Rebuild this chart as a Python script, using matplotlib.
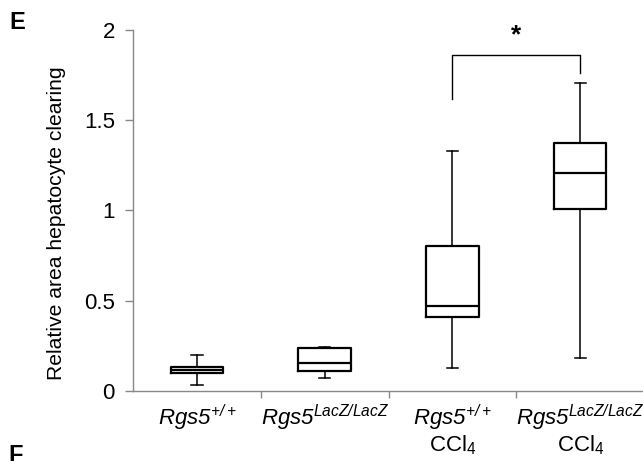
#!/usr/bin/env python3
"""
Box plot: relative area of hepatocyte clearing per genotype / treatment
"""
import matplotlib
matplotlib.use("Agg")
import matplotlib.pyplot as plt

plt.rcParams['font.family'] = ['Liberation Sans', 'DejaVu Sans']
# math "rm" is italic here so digits and +/+ come out slanted; sf stays upright
plt.rcParams['mathtext.fontset'] = 'custom'
plt.rcParams['mathtext.rm'] = 'Liberation Sans:italic'
plt.rcParams['mathtext.it'] = 'Liberation Sans:italic'
plt.rcParams['mathtext.sf'] = 'Liberation Sans'

# Data (box statistics)
labels = [r'$Rgs5^{+/+}$',
          r'$Rgs5^{LacZ/LacZ}$',
          r'$Rgs5^{+/+}$' + '\n' + r'CCl$_\mathsf{4}$',
          r'$Rgs5^{LacZ/LacZ}$' + '\n' + r'CCl$_\mathsf{4}$']
whis_low = [0.035, 0.073, 0.13, 0.186]
q1 = [0.103, 0.11, 0.409, 1.007]
median = [0.12, 0.155, 0.471, 1.206]
q3 = [0.134, 0.24, 0.803, 1.37]
whis_high = [0.202, 0.245, 1.328, 1.707]

# significance bracket between group 3 and 4
bracket_pair = (3, 4)
bracket_y = 1.86
bracket_left_bottom = 1.615
bracket_right_bottom = 1.76
star_y = 1.97

fig = plt.figure(figsize=(6.43, 4.61), dpi=100)
ax = fig.add_axes([0.2068, 0.151, 0.795, 0.785])

stats = []
for i in range(len(labels)):
    stats.append({
        "whislo": whis_low[i], "q1": q1[i], "med": median[i],
        "q3": q3[i], "whishi": whis_high[i], "fliers": [],
    })

line = dict(color='black', linewidth=1.6)
thin = dict(color='black', linewidth=1.1)
ax.bxp(stats, positions=range(1, len(labels) + 1), widths=0.41,
       showfliers=False, capwidths=0.09,
       boxprops=line, medianprops=line, whiskerprops=thin, capprops=thin)

# bracket + star
x1, x2 = bracket_pair
ax.plot([x1, x1, x2, x2], [bracket_left_bottom, bracket_y, bracket_y, bracket_right_bottom],
        color='black', linewidth=1.0)
ax.text((x1 + x2) / 2, star_y, '*', ha='center', va='center', fontsize=19, fontweight='bold')

ax.set_xlim(0.5, 4.5)
ax.set_ylim(0, 2)
ax.set_yticks([0, 0.5, 1, 1.5, 2])
ax.set_yticklabels(['0', '0.5', '1', '1.5', '2'], fontsize=16)
ax.set_xticks([1, 2, 3, 4])
ax.set_xticklabels(labels, fontsize=16, linespacing=1.05)
ax.set_xticks([1.5, 2.5, 3.5], minor=True)
ax.tick_params(axis='x', which='major', length=0, pad=8)
ax.tick_params(axis='x', which='minor', length=5, color='#888888', width=1.0)
ax.tick_params(axis='y', length=6, color='#888888', width=1.0, pad=7)
ax.set_ylabel('Relative area hepatocyte clearing', fontsize=15.2)
ax.yaxis.set_label_coords(-0.131, 0.465)

for side in ['top', 'right']:
    ax.spines[side].set_visible(False)
for side in ['left', 'bottom']:
    ax.spines[side].set_color('#888888')
    ax.spines[side].set_linewidth(1.0)

# panel letters (F is cut by the lower edge, as in the source)
fig.text(9 / 643, 1 - 29 / 461, 'E', fontsize=17, fontweight='bold', ha='left', va='baseline')
fig.text(8 / 643, 1 - 462 / 461, 'F', fontsize=17, fontweight='bold', ha='left', va='baseline')

plt.savefig('out.png', dpi=100)
plt.close()
